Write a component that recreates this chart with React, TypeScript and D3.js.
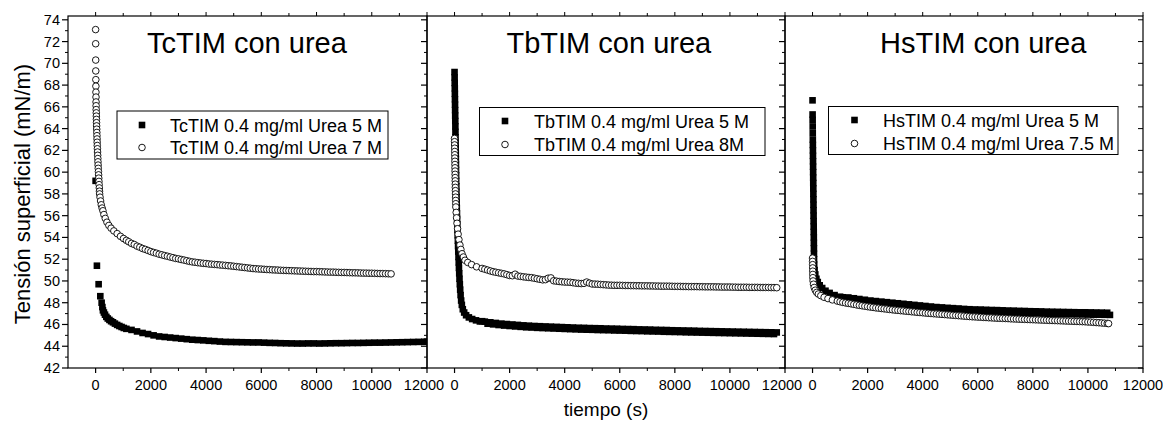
import React from 'react';
import * as d3 from 'd3';

const FONT = "'Liberation Sans', Arial, Helvetica, sans-serif";

// ---------------- data ----------------
const xMajorTicks = [0, 2000, 4000, 6000, 8000, 10000, 12000];
const xMinorTicks = [1000, 3000, 5000, 7000, 9000, 11000];
const yMajorTicks = [42, 44, 46, 48, 50, 52, 54, 56, 58, 60, 62, 64, 66, 68, 70, 72, 74];
const yMinorTicks = [43, 45, 47, 49, 51, 53, 55, 57, 59, 61, 63, 65, 67, 69, 71, 73];

const panelTitles = ['TcTIM con urea', 'TbTIM con urea', 'HsTIM con urea'];
const legendSquares = ['TcTIM 0.4 mg/ml Urea 5 M', 'TbTIM 0.4 mg/ml Urea 5 M', 'HsTIM 0.4 mg/ml Urea 5 M'];
const legendCircles = ['TcTIM 0.4 mg/ml Urea 7 M', 'TbTIM 0.4 mg/ml Urea 8M', 'HsTIM 0.4 mg/ml Urea 7.5 M'];

// [tiempo (s), tension (mN/m)]
const tcUrea5: [number, number][] = [
  [0, 59.2], [47, 51.4], [109, 49.7], [170, 48.6], [218, 48.0], [245, 47.6], [265, 47.3], [300, 47.1],
  [340, 46.9], [388, 46.7], [440, 46.55], [500, 46.42], [560, 46.3], [628, 46.2], [700, 46.08], [780, 45.96],
  [860, 45.86], [940, 45.77], [1020, 45.68], [1114, 45.6], [1300, 45.5], [1500, 45.36], [1700, 45.22],
  [1900, 45.12], [2100, 45.0], [2300, 44.9], [2500, 44.85], [2700, 44.8], [2900, 44.75], [3100, 44.7],
  [3300, 44.65], [3500, 44.6], [3700, 44.57], [3900, 44.54], [4100, 44.5], [4300, 44.47], [4500, 44.43],
  [4700, 44.4], [4900, 44.39], [5100, 44.38], [5300, 44.37], [5500, 44.36], [5700, 44.35], [5900, 44.35],
  [6100, 44.33], [6300, 44.31], [6500, 44.3], [6700, 44.28], [6900, 44.27], [7100, 44.26], [7300, 44.25],
  [7500, 44.25], [7700, 44.26], [7900, 44.26], [8100, 44.25], [8300, 44.26], [8500, 44.27], [8700, 44.28],
  [8900, 44.28], [9100, 44.29], [9300, 44.3], [9500, 44.3], [9700, 44.31], [9900, 44.32], [10100, 44.33],
  [10300, 44.33], [10500, 44.34], [10700, 44.35], [10900, 44.36], [11100, 44.37], [11300, 44.38],
  [11500, 44.39], [11700, 44.4], [11900, 44.41], [12000, 44.42],
];

const tcUrea7: [number, number][] = [
  [0, 73.1], [2, 71.8], [4, 70.3], [6, 69.3], [8, 68.5], [10, 67.9], [12, 67.35], [14, 66.9], [16, 66.45],
  [18, 66.1], [21, 65.75], [24, 65.45], [27, 65.15], [30, 64.85], [33, 64.55], [36, 64.25], [40, 63.95],
  [44, 63.65], [48, 63.35], [52, 63.05], [56, 62.75], [60, 62.45], [65, 62.15], [70, 61.85], [75, 61.55],
  [80, 61.25], [85, 60.95], [90, 60.65], [96, 60.35], [102, 60.05], [108, 59.75], [114, 59.45], [120, 59.15],
  [127, 58.85], [134, 58.55], [140, 58.25], [145, 58.0], [160, 57.7], [180, 57.35], [205, 57.0], [235, 56.7],
  [265, 56.45], [300, 56.1], [350, 55.75], [410, 55.4], [480, 55.1], [560, 54.85], [660, 54.6], [780, 54.35],
  [900, 54.1], [1010, 53.9], [1114, 53.73], [1200, 53.6], [1300, 53.45], [1400, 53.35], [1500, 53.2],
  [1600, 53.1], [1700, 52.98], [1800, 52.9], [1900, 52.8], [2000, 52.7], [2100, 52.62], [2200, 52.55],
  [2300, 52.46], [2400, 52.4], [2500, 52.33], [2600, 52.27], [2700, 52.2], [2800, 52.14], [2900, 52.07],
  [3000, 52.03], [3100, 51.97], [3200, 51.92], [3300, 51.86], [3400, 51.8], [3500, 51.75], [3600, 51.72],
  [3700, 51.68], [3800, 51.65], [3900, 51.62], [4000, 51.6], [4100, 51.56], [4200, 51.54], [4300, 51.52],
  [4400, 51.5], [4500, 51.47], [4600, 51.45], [4700, 51.43], [4800, 51.4], [4900, 51.38], [5000, 51.35],
  [5100, 51.32], [5200, 51.29], [5300, 51.26], [5400, 51.23], [5500, 51.2], [5600, 51.17], [5700, 51.14],
  [5800, 51.12], [5900, 51.1], [6000, 51.09], [6100, 51.07], [6200, 51.05], [6300, 51.04], [6400, 51.02],
  [6500, 51.01], [6600, 51.0], [6700, 50.98], [6800, 50.97], [6900, 50.96], [7000, 50.95], [7100, 50.94],
  [7200, 50.93], [7300, 50.92], [7400, 50.91], [7500, 50.9], [7600, 50.89], [7700, 50.88], [7800, 50.87],
  [7900, 50.86], [8000, 50.86], [8100, 50.85], [8200, 50.84], [8300, 50.83], [8400, 50.82], [8500, 50.81],
  [8600, 50.81], [8700, 50.8], [8800, 50.79], [8900, 50.78], [9000, 50.78], [9100, 50.77], [9200, 50.76],
  [9300, 50.75], [9400, 50.75], [9500, 50.74], [9600, 50.73], [9700, 50.72], [9800, 50.72], [9900, 50.71],
  [10000, 50.71], [10100, 50.7], [10200, 50.69], [10300, 50.68], [10400, 50.68], [10500, 50.67],
  [10600, 50.66], [10700, 50.65],
];

const tbUrea5: [number, number][] = [
  [0, 69.2], [3, 68.7], [6, 68.2], [9, 67.7], [12, 67.2], [15, 66.7], [18, 66.2], [21, 65.7], [24, 65.2],
  [27, 64.7], [30, 64.2], [33, 63.7], [36, 63.2], [39, 62.7], [42, 62.2], [45, 61.7], [48, 61.2], [51, 60.7],
  [54, 60.2], [57, 59.7], [60, 59.2], [64, 58.7], [68, 58.2], [72, 57.7], [77, 57.2], [82, 56.7], [88, 56.2],
  [94, 55.7], [100, 55.2], [107, 54.7], [114, 54.2], [121, 53.7], [128, 53.2], [136, 52.7], [144, 52.2],
  [152, 51.7], [160, 51.2], [170, 50.7], [180, 50.2], [192, 49.7], [205, 49.2], [220, 48.7], [240, 48.2],
  [265, 47.8], [300, 47.4], [350, 47.1], [420, 46.85], [520, 46.65], [640, 46.5], [780, 46.38], [920, 46.28],
  [1000, 46.3], [1100, 46.26], [1200, 46.07], [1300, 46.2], [1400, 46.01], [1500, 46.14], [1600, 45.95],
  [1700, 46.08], [1800, 45.9], [1900, 46.04], [2000, 45.86], [2100, 46.0], [2200, 45.82], [2300, 45.96],
  [2400, 45.78], [2500, 45.92], [2600, 45.74], [2700, 45.89], [2800, 45.72], [2900, 45.86], [3000, 45.69],
  [3100, 45.84], [3200, 45.67], [3300, 45.82], [3400, 45.65], [3500, 45.8], [3600, 45.63], [3700, 45.78],
  [3800, 45.61], [3900, 45.76], [4000, 45.59], [4100, 45.74], [4200, 45.57], [4300, 45.72], [4400, 45.55],
  [4500, 45.7], [4600, 45.53], [4700, 45.69], [4800, 45.52], [4900, 45.67], [5000, 45.51], [5100, 45.66],
  [5200, 45.49], [5300, 45.65], [5400, 45.48], [5500, 45.63], [5600, 45.47], [5700, 45.62], [5800, 45.45],
  [5900, 45.61], [6000, 45.44], [6100, 45.59], [6200, 45.43], [6300, 45.58], [6400, 45.41], [6500, 45.57],
  [6600, 45.4], [6700, 45.55], [6800, 45.39], [6900, 45.54], [7000, 45.37], [7100, 45.53], [7200, 45.36],
  [7300, 45.51], [7400, 45.35], [7500, 45.5], [7600, 45.33], [7700, 45.49], [7800, 45.32], [7900, 45.47],
  [8000, 45.31], [8100, 45.46], [8200, 45.3], [8300, 45.45], [8400, 45.28], [8500, 45.44], [8600, 45.27],
  [8700, 45.43], [8800, 45.26], [8900, 45.41], [9000, 45.25], [9100, 45.4], [9200, 45.24], [9300, 45.39],
  [9400, 45.23], [9500, 45.38], [9600, 45.22], [9700, 45.37], [9800, 45.21], [9900, 45.36], [10000, 45.2],
  [10100, 45.35], [10200, 45.19], [10300, 45.34], [10400, 45.18], [10500, 45.33], [10600, 45.17],
  [10700, 45.32], [10800, 45.16], [10900, 45.31], [11000, 45.15], [11100, 45.3], [11200, 45.14],
  [11300, 45.29], [11400, 45.13], [11500, 45.28], [11600, 45.12], [11700, 45.27],
];

const tbUrea8: [number, number][] = [
  [0, 63.1], [2, 62.8], [4, 62.5], [6, 62.2], [8, 61.9], [10, 61.6], [12, 61.3], [14, 61.0], [16, 60.7],
  [18, 60.4], [20, 60.1], [22, 59.8], [24, 59.5], [26, 59.2], [28, 58.9], [30, 58.6], [33, 58.3], [36, 58.0],
  [39, 57.7], [42, 57.4], [45, 57.1], [48, 56.8], [60, 56.3], [75, 55.8], [90, 55.3], [110, 54.8], [130, 54.3],
  [160, 53.8], [195, 53.3], [230, 52.9], [270, 52.5], [320, 52.2], [380, 51.9], [480, 51.7], [620, 51.5],
  [800, 51.3], [1000, 51.15], [1100, 51.08], [1200, 51.0], [1300, 50.92], [1400, 50.85], [1500, 50.8],
  [1600, 50.75], [1700, 50.7], [1800, 50.65], [1900, 50.58], [2000, 50.5], [2100, 50.48], [2200, 50.62],
  [2300, 50.45], [2400, 50.42], [2500, 50.38], [2600, 50.35], [2700, 50.32], [2800, 50.3], [2900, 50.25],
  [3000, 50.2], [3100, 50.15], [3200, 50.1], [3300, 50.12], [3400, 50.25], [3500, 50.28], [3600, 50.02],
  [3700, 49.98], [3800, 49.95], [3900, 49.92], [4000, 49.9], [4100, 49.89], [4200, 49.88], [4300, 49.84],
  [4400, 49.8], [4500, 49.78], [4600, 49.76], [4700, 49.78], [4800, 49.9], [4900, 49.8], [5000, 49.72],
  [5100, 49.71], [5200, 49.7], [5300, 49.68], [5400, 49.66], [5500, 49.64], [5600, 49.62], [5700, 49.61],
  [5800, 49.6], [5900, 49.6], [6000, 49.6], [6100, 49.59], [6200, 49.58], [6300, 49.58], [6400, 49.57],
  [6500, 49.57], [6600, 49.56], [6700, 49.56], [6800, 49.55], [6900, 49.55], [7000, 49.55], [7100, 49.54],
  [7200, 49.54], [7300, 49.53], [7400, 49.53], [7500, 49.52], [7600, 49.52], [7700, 49.52], [7800, 49.52],
  [7900, 49.51], [8000, 49.5], [8100, 49.5], [8200, 49.5], [8300, 49.49], [8400, 49.49], [8500, 49.48],
  [8600, 49.48], [8700, 49.48], [8800, 49.48], [8900, 49.47], [9000, 49.47], [9100, 49.46], [9200, 49.46],
  [9300, 49.46], [9400, 49.46], [9500, 49.45], [9600, 49.45], [9700, 49.44], [9800, 49.44], [9900, 49.44],
  [10000, 49.44], [10100, 49.43], [10200, 49.43], [10300, 49.42], [10400, 49.42], [10500, 49.42],
  [10600, 49.42], [10700, 49.41], [10800, 49.41], [10900, 49.41], [11000, 49.41], [11100, 49.4],
  [11200, 49.4], [11300, 49.4], [11400, 49.4], [11500, 49.39], [11600, 49.39], [11700, 49.38],
];

const hsUrea5: [number, number][] = [
  [0, 66.6], [2, 65.3], [4, 64.8], [6, 64.2], [8, 63.6], [10, 63.0], [12, 62.5], [14, 62.0], [16, 61.5],
  [18, 61.0], [20, 60.5], [22, 60.0], [24, 59.5], [26, 59.0], [28, 58.5], [30, 58.0], [32, 57.5], [34, 57.0],
  [36, 56.5], [38, 56.0], [40, 55.5], [42, 55.0], [44, 54.5], [46, 54.0], [48, 53.5], [50, 53.0], [52, 52.5],
  [55, 52.0], [60, 51.5], [75, 51.0], [100, 50.6], [140, 50.2], [190, 49.9], [260, 49.6], [350, 49.35],
  [470, 49.1], [620, 48.9], [800, 48.7], [1000, 48.55], [1100, 48.5], [1200, 48.42], [1300, 48.48],
  [1400, 48.25], [1500, 48.41], [1600, 48.18], [1700, 48.34], [1800, 48.11], [1900, 48.27], [2000, 48.04],
  [2100, 48.2], [2200, 47.98], [2300, 48.15], [2400, 47.93], [2500, 48.1], [2600, 47.88], [2700, 48.05],
  [2800, 47.83], [2900, 48.0], [3000, 47.78], [3100, 47.95], [3200, 47.73], [3300, 47.9], [3400, 47.68],
  [3500, 47.85], [3600, 47.63], [3700, 47.8], [3800, 47.58], [3900, 47.75], [4000, 47.53], [4100, 47.7],
  [4200, 47.48], [4300, 47.65], [4400, 47.43], [4500, 47.6], [4600, 47.38], [4700, 47.57], [4800, 47.35],
  [4900, 47.53], [5000, 47.32], [5100, 47.5], [5200, 47.28], [5300, 47.47], [5400, 47.25], [5500, 47.43],
  [5600, 47.22], [5700, 47.4], [5800, 47.19], [5900, 47.38], [6000, 47.18], [6100, 47.37], [6200, 47.16],
  [6300, 47.35], [6400, 47.14], [6500, 47.33], [6600, 47.13], [6700, 47.32], [6800, 47.11], [6900, 47.3],
  [7000, 47.09], [7100, 47.28], [7200, 47.08], [7300, 47.27], [7400, 47.06], [7500, 47.25], [7600, 47.04],
  [7700, 47.24], [7800, 47.03], [7900, 47.22], [8000, 47.02], [8100, 47.21], [8200, 47.0], [8300, 47.2],
  [8400, 46.99], [8500, 47.18], [8600, 46.98], [8700, 47.17], [8800, 46.96], [8900, 47.16], [9000, 46.95],
  [9100, 47.15], [9200, 46.94], [9300, 47.14], [9400, 46.94], [9500, 47.13], [9600, 46.93], [9700, 47.12],
  [9800, 46.92], [9900, 47.12], [10000, 46.91], [10100, 47.11], [10200, 46.9], [10300, 47.1], [10400, 46.9],
  [10500, 47.09], [10600, 46.89], [10700, 47.08], [10800, 46.88],
];

const hsUrea75: [number, number][] = [
  [0, 52.1], [2, 51.8], [4, 51.5], [6, 51.2], [8, 50.9], [10, 50.6], [12, 50.3], [20, 50.0], [35, 49.7],
  [60, 49.4], [100, 49.15], [150, 48.95], [210, 48.8], [300, 48.65], [420, 48.5], [560, 48.38], [720, 48.26],
  [900, 48.15], [1000, 48.09], [1100, 48.03], [1200, 47.98], [1300, 47.94], [1400, 47.9], [1500, 47.85],
  [1600, 47.8], [1700, 47.76], [1800, 47.72], [1900, 47.68], [2000, 47.64], [2100, 47.6], [2200, 47.57],
  [2300, 47.53], [2400, 47.5], [2500, 47.47], [2600, 47.44], [2700, 47.41], [2800, 47.38], [2900, 47.35],
  [3000, 47.32], [3100, 47.3], [3200, 47.27], [3300, 47.25], [3400, 47.22], [3500, 47.2], [3600, 47.17],
  [3700, 47.15], [3800, 47.12], [3900, 47.1], [4000, 47.08], [4100, 47.05], [4200, 47.03], [4300, 47.01],
  [4400, 46.99], [4500, 46.97], [4600, 46.95], [4700, 46.93], [4800, 46.91], [4900, 46.89], [5000, 46.87],
  [5100, 46.85], [5200, 46.83], [5300, 46.81], [5400, 46.79], [5500, 46.77], [5600, 46.75], [5700, 46.73],
  [5800, 46.71], [5900, 46.7], [6000, 46.68], [6100, 46.67], [6200, 46.65], [6300, 46.64], [6400, 46.62],
  [6500, 46.61], [6600, 46.59], [6700, 46.58], [6800, 46.57], [6900, 46.56], [7000, 46.55], [7100, 46.54],
  [7200, 46.52], [7300, 46.51], [7400, 46.5], [7500, 46.49], [7600, 46.48], [7700, 46.47], [7800, 46.46],
  [7900, 46.45], [8000, 46.44], [8100, 46.43], [8200, 46.42], [8300, 46.41], [8400, 46.4], [8500, 46.39],
  [8600, 46.38], [8700, 46.37], [8800, 46.36], [8900, 46.35], [9000, 46.34], [9100, 46.33], [9200, 46.32],
  [9300, 46.31], [9400, 46.3], [9500, 46.29], [9600, 46.28], [9700, 46.27], [9800, 46.26], [9900, 46.25],
  [10000, 46.23], [10100, 46.22], [10200, 46.2], [10300, 46.18], [10400, 46.16], [10500, 46.14],
  [10600, 46.12], [10700, 46.1], [10750, 46.08],
];

// ---------------- layout ----------------
const TOP = 16;
const BOTTOM = 368;
const panelEdges: [number, number][] = [[68, 427], [427, 785], [785, 1143]];
const legendBoxes = [
  { x: 117, y: 111, w: 271, h: 48, mx: 142, tx: 170, r1: 125, r2: 147.5 },
  { x: 479.5, y: 107.5, w: 285.5, h: 48, mx: 505, tx: 534, r1: 121, r2: 144.5 },
  { x: 828.5, y: 106.5, w: 289.5, h: 48, mx: 854.5, tx: 883, r1: 120, r2: 143.5 },
];
const titleX = [147, 506.5, 880];

const SQ = 6.6;
const CR = 3.3;

export default function App() {
  const y = d3.scaleLinear().domain([42, 74.35]).range([BOTTOM, TOP]);
  const series = [
    [tcUrea5, tcUrea7],
    [tbUrea5, tbUrea8],
    [hsUrea5, hsUrea75],
  ];

  return (
    <svg
      width={1163}
      height={422}
      style={{ position: 'absolute', left: 0, top: 0, background: '#fff' }}
      fontFamily={FONT}
    >
      <rect x={0} y={0} width={1163} height={422} fill="#fff" />
      <defs>
        {panelEdges.map(([x0, x1], i) => (
          <clipPath id={`clip${i}`} key={i}>
            <rect x={x0} y={TOP} width={x1 - x0} height={BOTTOM - TOP} />
          </clipPath>
        ))}
      </defs>
      {panelEdges.map(([x0, x1], i) => {
        const x = d3.scaleLinear().domain([-1000, 12000]).range([x0, x1]);
        const [sq, ci] = series[i];
        const lg = legendBoxes[i];
        return (
          <g key={i}>
            <g clipPath={`url(#clip${i})`}>
              {sq.map(([t, v], j) => (
                <rect key={`s${j}`} x={x(t) - SQ / 2} y={y(v) - SQ / 2} width={SQ} height={SQ} fill="#000" />
              ))}
              {ci.map(([t, v], j) => (
                <circle key={`c${j}`} cx={x(t)} cy={y(v)} r={CR} fill="#fff" stroke="#000" strokeWidth={0.9} />
              ))}
            </g>
            {/* frame */}
            <rect x={x0} y={TOP} width={x1 - x0} height={BOTTOM - TOP} fill="none" stroke="#000" strokeWidth={1.2} />
            {/* bottom ticks */}
            {xMajorTicks.map((t) => (
              <line key={`bM${t}`} x1={x(t)} x2={x(t)} y1={BOTTOM} y2={BOTTOM + 5} stroke="#000" strokeWidth={1.2} />
            ))}
            {xMinorTicks.map((t) => (
              <line key={`bm${t}`} x1={x(t)} x2={x(t)} y1={BOTTOM} y2={BOTTOM + 3} stroke="#000" strokeWidth={1} />
            ))}
            {/* top ticks */}
            {xMajorTicks.map((t) => (
              <line key={`tM${t}`} x1={x(t)} x2={x(t)} y1={TOP} y2={TOP - 4} stroke="#000" strokeWidth={1} />
            ))}
            {xMinorTicks.map((t) => (
              <line key={`tm${t}`} x1={x(t)} x2={x(t)} y1={TOP} y2={TOP - 3} stroke="#000" strokeWidth={1} />
            ))}
            {/* x labels */}
            {xMajorTicks.map((t) => (
              <text
                key={`bl${t}`}
                x={t === 12000 && i < 2 ? x(t) - 3 : x(t)}
                y={390}
                fontSize={14.5}
                textAnchor="middle"
                fill="#000"
              >
                {t}
              </text>
            ))}
            {/* left ticks, outward */}
            {yMajorTicks.map((v) => (
              <line key={`lM${v}`} x1={x0} x2={x0 - 6} y1={y(v)} y2={y(v)} stroke="#000" strokeWidth={1.2} />
            ))}
            {yMinorTicks.map((v) => (
              <line key={`lm${v}`} x1={x0} x2={x0 - 3} y1={y(v)} y2={y(v)} stroke="#000" strokeWidth={1} />
            ))}
            {i === 0 &&
              yMajorTicks.map((v) => (
                <text key={`yl${v}`} x={x0 - 8} y={y(v) + 5} fontSize={14.5} textAnchor="end" fill="#000">
                  {v}
                </text>
              ))}
            {i === 2 &&
              yMajorTicks.map((v) => (
                <line key={`rM${v}`} x1={x1} x2={x1 - 5} y1={y(v)} y2={y(v)} stroke="#000" strokeWidth={1} />
              ))}
            {/* title */}
            <text x={titleX[i]} y={53} fontSize={29} fill="#000">
              {panelTitles[i]}
            </text>
            {/* legend */}
            <rect x={lg.x} y={lg.y} width={lg.w} height={lg.h} fill="#fff" stroke="#000" strokeWidth={1} />
            <rect x={lg.mx - SQ / 2} y={lg.r1 - SQ / 2} width={SQ} height={SQ} fill="#000" />
            <circle cx={lg.mx} cy={lg.r2} r={CR} fill="#fff" stroke="#000" strokeWidth={0.9} />
            <text x={lg.tx} y={lg.r1 + 6.5} fontSize={18} fill="#000">
              {legendSquares[i]}
            </text>
            <text x={lg.tx} y={lg.r2 + 6.5} fontSize={18} fill="#000">
              {legendCircles[i]}
            </text>
          </g>
        );
      })}
      <text x={606} y={416} fontSize={19} textAnchor="middle" fill="#000">
        tiempo (s)
      </text>
      <text transform="translate(30,194) rotate(-90)" fontSize={22} textAnchor="middle" fill="#000">
        Tensión superficial (mN/m)
      </text>
    </svg>
  );
}
